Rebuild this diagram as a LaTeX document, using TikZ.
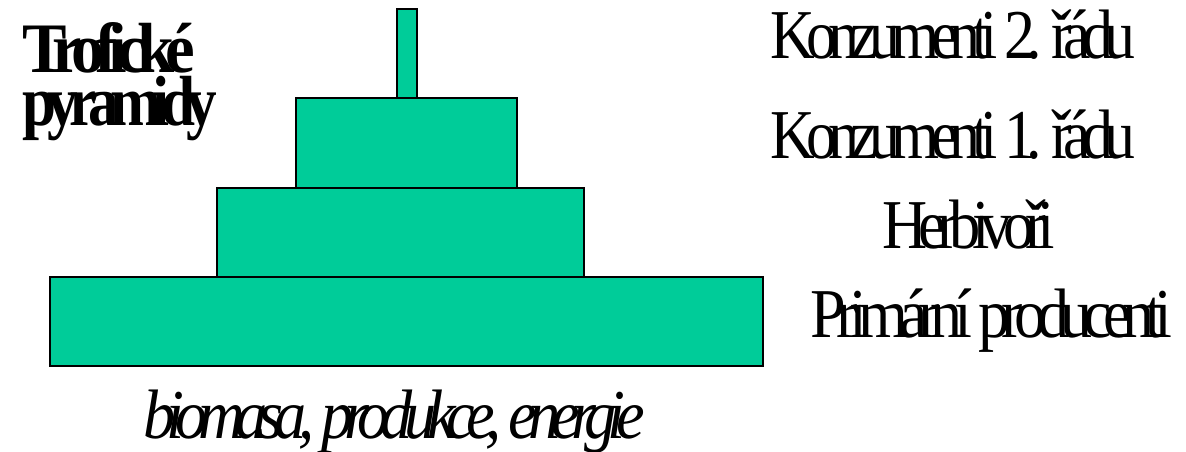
\documentclass[tikz,border=0pt]{standalone}
\usepackage{fontspec}
\setmainfont{Liberation Serif}
\newfontfamily\tight[LetterSpace=-14]{Liberation Serif}
\usepackage{graphicx}
\definecolor{pyr}{HTML}{00CC99}
\newcommand{\fitw}[2]{\resizebox{#1}{\height}{#2}}
\begin{document}
\begin{tikzpicture}[x=1pt,y=-1pt,
  level/.style={draw=black,line width=1.3pt,fill=pyr},
  lbl/.style={anchor=base west,inner sep=0pt,font=\fontsize{70}{70}\tight}]
\useasboundingbox (0,0) rectangle (1186,452);
% pyramid levels
\draw[level] (50,277) rectangle (763,366);
\draw[level] (217,188) rectangle (584,277);
\draw[level] (296,98) rectangle (517,188);
\draw[level] (397,9) rectangle (417,98);
% title
\node[lbl,font=\fontsize{71}{71}\tight\bfseries] (t1) at (22,72) {\fitw{173pt}{Trofické}};
\node[lbl,font=\fontsize{71}{71}\tight\bfseries] (t2) at (22,125) {\fitw{195pt}{pyramidy}};
% level labels
\node[lbl] (k2) at (770,58) {\fitw{365pt}{Konzumenti 2. řádu}};
\node[lbl] (k1) at (770,158) {\fitw{365pt}{Konzumenti 1. řádu}};
\node[lbl] (hb) at (882,248) {\fitw{173pt}{Herbivoři}};
\node[lbl] (pp) at (810,337) {\fitw{362pt}{Primární producenti}};
% bottom
\node[lbl,font=\fontsize{70}{70}\tight\itshape] (bm) at (143,438) {\fitw{502pt}{biomasa, produkce, energie}};
\end{tikzpicture}
\end{document}
